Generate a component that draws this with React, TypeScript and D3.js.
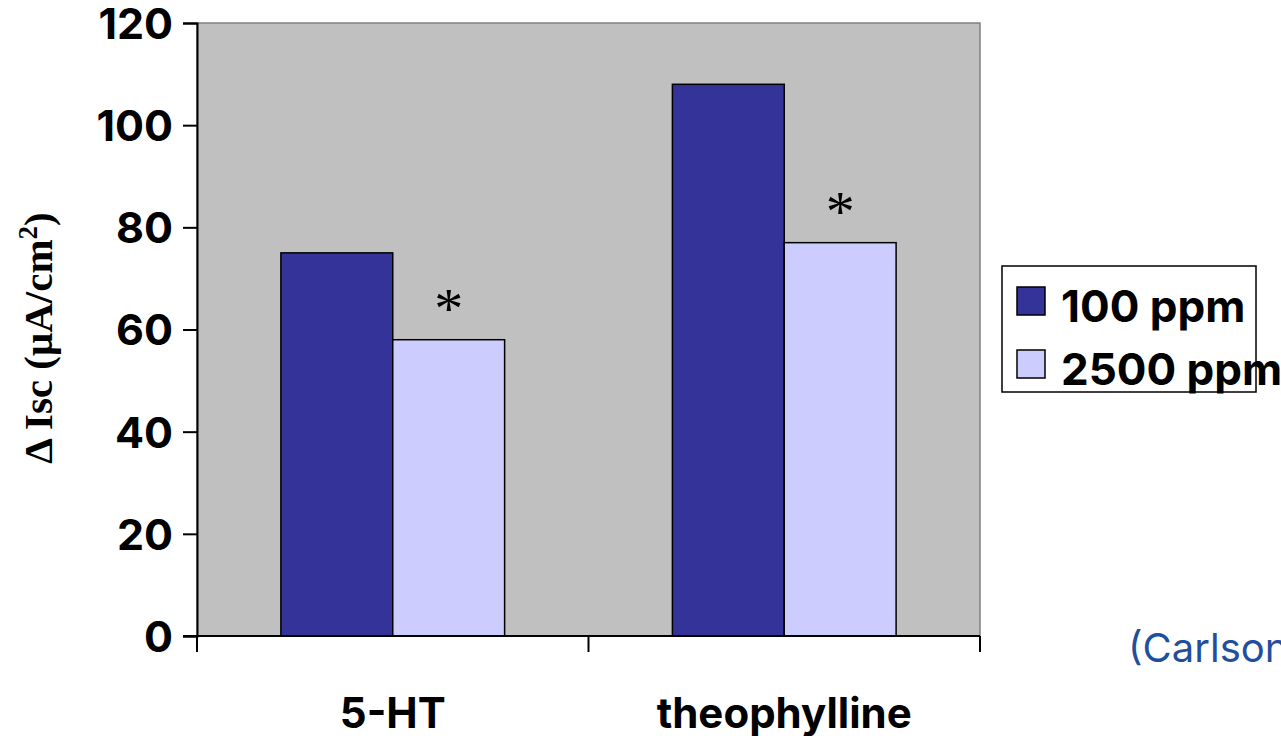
import React, { useEffect, useRef } from "react";
import * as d3 from "d3";

const categories = ["5-HT", "theophylline"];
const seriesNames = ["100 ppm", "2500 ppm"];
const values100 = [75, 108];
const values2500 = [58, 77];
const yTicks = [0, 20, 40, 60, 80, 100, 120];

const colors = ["#333399", "#ccccff"];

const App = () => {
  const svgRef = useRef<SVGSVGElement>(null);

  useEffect(() => {
    const svg = d3.select(svgRef.current);
    svg.selectAll("*").remove();

    const W = 1281;
    const H = 736;
    const plot = { left: 197, right: 980, top: 23, bottom: 636 };
    const sans = "'Inter', 'DejaVu Sans', sans-serif";

    const x = d3.scaleBand().domain(categories).range([plot.left, plot.right]);
    const inner = d3
      .scaleBand()
      .domain(seriesNames)
      .range([0, x.bandwidth()])
      .paddingOuter(0.75)
      .paddingInner(0);
    const y = d3.scaleLinear().domain([0, 120]).range([plot.bottom, plot.top]);

    // fondo del área de trazado
    svg
      .append("rect")
      .attr("x", plot.left)
      .attr("y", plot.top)
      .attr("width", plot.right - plot.left)
      .attr("height", plot.bottom - plot.top)
      .attr("fill", "#c0c0c0")
      .attr("stroke", "#808080")
      .attr("stroke-width", 1.5);

    // barras
    const rows = categories.map((c, i) => ({
      cat: c,
      vals: [values100[i], values2500[i]],
    }));
    rows.forEach((r) => {
      r.vals.forEach((v, j) => {
        svg
          .append("rect")
          .attr("x", x(r.cat)! + inner(seriesNames[j])!)
          .attr("y", y(v))
          .attr("width", inner.bandwidth())
          .attr("height", y(0) - y(v))
          .attr("fill", colors[j])
          .attr("stroke", "#000")
          .attr("stroke-width", 1.5);
      });
      // asterisco de significancia sobre la barra de 2500 ppm
      svg
        .append("text")
        .attr("x", x(r.cat)! + inner(seriesNames[1])! + inner.bandwidth() / 2)
        .attr("y", y(r.vals[1]) - 12)
        .attr("text-anchor", "middle")
        .attr("font-family", "'Liberation Serif', serif")
        .attr("font-size", 58)
        .text("*");
    });

    // eje Y
    const yAxis = svg
      .append("g")
      .attr("transform", `translate(${plot.left},0)`)
      .call(d3.axisLeft(y).tickValues(yTicks).tickSize(14).tickPadding(10));
    yAxis.select(".domain").attr("stroke", "#000").attr("stroke-width", 2);
    yAxis.selectAll(".tick line").attr("stroke", "#000").attr("stroke-width", 2);
    yAxis
      .selectAll("text")
      .attr("font-family", sans)
      .attr("font-weight", "bold")
      .attr("font-size", 43)
      .attr("fill", "#000")
      .attr("dy", "0.36em");

    // eje X
    const xAxis = svg.append("g").attr("transform", `translate(0,${plot.bottom})`);
    xAxis
      .append("line")
      .attr("x1", plot.left - 14)
      .attr("x2", plot.right)
      .attr("stroke", "#000")
      .attr("stroke-width", 2);
    const edges = [plot.left, ...categories.map((c) => x(c)! + x.bandwidth())];
    edges.forEach((e) => {
      xAxis
        .append("line")
        .attr("x1", e)
        .attr("x2", e)
        .attr("y1", 0)
        .attr("y2", 16)
        .attr("stroke", "#000")
        .attr("stroke-width", 2);
    });
    categories.forEach((c) => {
      svg
        .append("text")
        .attr("x", x(c)! + x.bandwidth() / 2)
        .attr("y", 728)
        .attr("text-anchor", "middle")
        .attr("font-family", sans)
        .attr("font-weight", "bold")
        .attr("font-size", 42)
        .text(c);
    });

    // título eje Y
    const yt = svg
      .append("text")
      .attr("transform", `translate(52,${338}) rotate(-90)`)
      .attr("text-anchor", "middle")
      .attr("font-family", "'Liberation Serif', serif")
      .attr("font-weight", "bold")
      .attr("font-size", 41);
    yt.append("tspan").text("\u0394 Isc (\u03bcA/cm");
    yt.append("tspan").attr("font-size", 27).attr("dy", -15).text("2");
    yt.append("tspan").attr("dy", 15).text(")");

    // leyenda
    const lg = svg.append("g");
    lg.append("rect")
      .attr("x", 1002)
      .attr("y", 266)
      .attr("width", 254)
      .attr("height", 126)
      .attr("fill", "#fff")
      .attr("stroke", "#000")
      .attr("stroke-width", 1.5);
    seriesNames.forEach((s, i) => {
      const yy = 287 + i * 63;
      lg.append("rect")
        .attr("x", 1017)
        .attr("y", yy)
        .attr("width", 28)
        .attr("height", 28)
        .attr("fill", colors[i])
        .attr("stroke", "#000")
        .attr("stroke-width", 1.5);
      lg.append("text")
        .attr("x", 1061)
        .attr("y", yy + 35)
        .attr("font-family", sans)
        .attr("font-weight", "bold")
        .attr("font-size", 44)
        .text(s);
    });

    // cita
    svg
      .append("text")
      .attr("x", 1128)
      .attr("y", 662)
      .attr("font-family", sans)
      .attr("font-size", 40)
      .attr("fill", "#1f4f9e")
      .text("(Carlson");

    svg.attr("width", W).attr("height", H);
  }, []);

  return (
    <div style={{ position: "absolute", left: 0, top: 0 }}>
      <svg ref={svgRef} width={1281} height={736} style={{ display: "block" }}></svg>
    </div>
  );
};

export default App;
